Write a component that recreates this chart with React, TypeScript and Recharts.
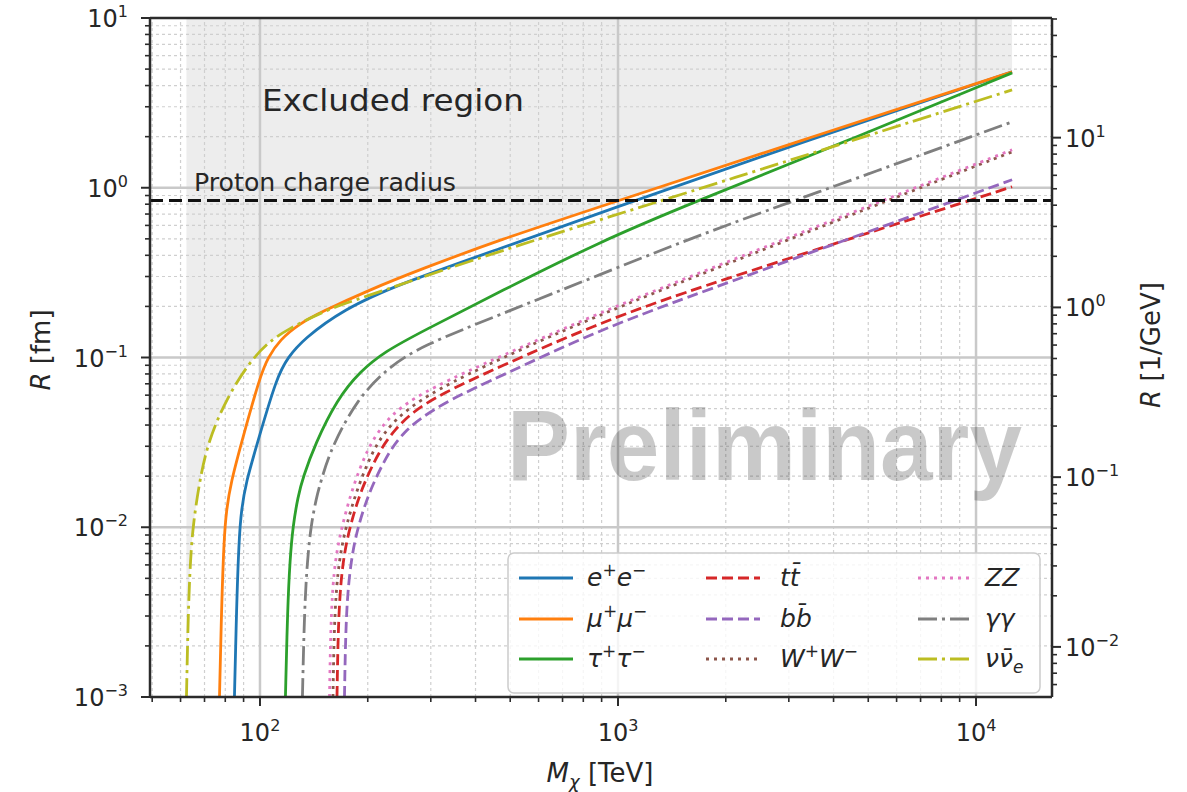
import React from 'react';
import { ComposedChart, Line, Area, XAxis, YAxis, ReferenceLine } from 'recharts';

type P = { m: number; r: number };

// ---- axis ticks ----
const X_MAJOR = [100, 1000, 10000];
const X_MINOR = [50, 60, 70, 80, 90, 200, 300, 400, 500, 600, 700, 800, 900, 2000, 3000, 4000, 5000, 6000, 7000, 8000, 9000];
const Y_MAJOR = [0.001, 0.01, 0.1, 1, 10];
const Y_MINOR = [
  0.002, 0.003, 0.004, 0.005, 0.006, 0.007, 0.008, 0.009,
  0.02, 0.03, 0.04, 0.05, 0.06, 0.07, 0.08, 0.09,
  0.2, 0.3, 0.4, 0.5, 0.6, 0.7, 0.8, 0.9,
  2, 3, 4, 5, 6, 7, 8, 9,
];
const Y2_MAJOR = [0.01, 0.1, 1, 10];
const Y2_MINOR = [
  0.006, 0.007, 0.008, 0.009,
  0.02, 0.03, 0.04, 0.05, 0.06, 0.07, 0.08, 0.09,
  0.2, 0.3, 0.4, 0.5, 0.6, 0.7, 0.8, 0.9,
  2, 3, 4, 5, 6, 7, 8, 9, 20, 30, 40, 50,
];

const FM_PER_INV_GEV = 0.1973;
const X_DOMAIN: [number, number] = [49.3, 16300];
const Y_DOMAIN: [number, number] = [0.001, 10];
const Y2_DOMAIN: [number, number] = [0.001 / FM_PER_INV_GEV, 10 / FM_PER_INV_GEV];
const PROTON_RADIUS = 0.84;
const EXCLUDED_TOP = 10;

// ---- series (M in TeV, R in fm) ----
const eeData: P[] = [
  { m: 84.86, r: 0.001 }, { m: 85.99, r: 0.003293 }, { m: 87.36, r: 0.0085 }, { m: 88.77, r: 0.01276 },
  { m: 91.4, r: 0.01839 }, { m: 98.08, r: 0.03077 }, { m: 111.5, r: 0.07733 }, { m: 119.7, r: 0.1 },
  { m: 131.9, r: 0.1276 }, { m: 170.5, r: 0.1915 }, { m: 246.1, r: 0.2724 }, { m: 468.2, r: 0.4377 },
  { m: 890.6, r: 0.7126 }, { m: 3224, r: 1.84 }, { m: 12610, r: 4.814 },
];
const mumuData: P[] = [
  { m: 77.08, r: 0.001 }, { m: 78.08, r: 0.003293 }, { m: 79.33, r: 0.0085 }, { m: 80.62, r: 0.01276 },
  { m: 82.99, r: 0.01839 }, { m: 88.5, r: 0.03077 }, { m: 100, r: 0.07733 }, { m: 105.3, r: 0.1 },
  { m: 113.7, r: 0.1276 }, { m: 129.3, r: 0.1585 }, { m: 147.1, r: 0.1839 }, { m: 202.9, r: 0.2512 },
  { m: 280, r: 0.3296 }, { m: 468.2, r: 0.4943 }, { m: 890.6, r: 0.7734 }, { m: 3224, r: 1.89 },
  { m: 12610, r: 4.814 },
];
const tautauData: P[] = [
  { m: 117.8, r: 0.001 }, { m: 119.4, r: 0.003293 }, { m: 121.3, r: 0.006483 }, { m: 123.6, r: 0.010137 },
  { m: 127.7, r: 0.01522 }, { m: 131.9, r: 0.01968 }, { m: 142.4, r: 0.03077 }, { m: 164.1, r: 0.05661 },
  { m: 190.2, r: 0.0827 }, { m: 223.4, r: 0.1085 }, { m: 280, r: 0.1403 }, { m: 468.2, r: 0.2445 },
  { m: 890.6, r: 0.4813 }, { m: 1589, r: 0.8052 }, { m: 4446, r: 1.916 }, { m: 12610, r: 4.748 },
];
const ttData: P[] = [
  { m: 164.1, r: 0.001 }, { m: 165.7, r: 0.003293 }, { m: 170.5, r: 0.006483 }, { m: 178.4, r: 0.010137 },
  { m: 191.5, r: 0.016733 }, { m: 216.3, r: 0.028764 }, { m: 238.4, r: 0.03772 }, { m: 265.8, r: 0.04748 },
  { m: 318.3, r: 0.06059 }, { m: 468.2, r: 0.08855 }, { m: 890.6, r: 0.1606 }, { m: 1694, r: 0.2617 },
  { m: 9199, r: 0.8163 }, { m: 12610, r: 1.0136 },
];
const bbData: P[] = [
  { m: 172.2, r: 0.001 }, { m: 173.9, r: 0.003293 }, { m: 179.6, r: 0.006483 }, { m: 187.8, r: 0.010137 },
  { m: 202.9, r: 0.016733 }, { m: 230.7, r: 0.028764 }, { m: 254.1, r: 0.0367 }, { m: 280, r: 0.04378 },
  { m: 339.5, r: 0.05661 }, { m: 468.2, r: 0.07733 }, { m: 890.6, r: 0.1462 }, { m: 1694, r: 0.2411 },
  { m: 12610, r: 1.1144 },
];
const wwData: P[] = [
  { m: 159.9, r: 0.001 }, { m: 161.5, r: 0.003293 }, { m: 166.3, r: 0.006483 }, { m: 173.9, r: 0.010137 },
  { m: 186.6, r: 0.016733 }, { m: 206.9, r: 0.028764 }, { m: 229.3, r: 0.03927 }, { m: 255.7, r: 0.04878 },
  { m: 308.3, r: 0.06394 }, { m: 468.2, r: 0.09865 }, { m: 890.6, r: 0.179 }, { m: 1694, r: 0.3078 },
  { m: 5290, r: 0.7943 }, { m: 12610, r: 1.628 },
];
const zzData: P[] = [
  { m: 156.4, r: 0.001 }, { m: 157.9, r: 0.003293 }, { m: 162.0, r: 0.006483 }, { m: 169.5, r: 0.010137 },
  { m: 180.7, r: 0.016733 }, { m: 199.0, r: 0.028764 }, { m: 220.6, r: 0.04035 }, { m: 246.1, r: 0.0508 },
  { m: 298.5, r: 0.0657 }, { m: 468.2, r: 0.10137 }, { m: 890.6, r: 0.1839 }, { m: 1694, r: 0.3162 },
  { m: 5290, r: 0.8163 }, { m: 12610, r: 1.673 },
];
const gammaData: P[] = [
  { m: 131.4, r: 0.001 }, { m: 133.1, r: 0.003293 }, { m: 135.7, r: 0.006483 }, { m: 138.8, r: 0.010137 },
  { m: 143.3, r: 0.01461 }, { m: 149.0, r: 0.01968 }, { m: 158.9, r: 0.02995 }, { m: 186.6, r: 0.05661 },
  { m: 226.3, r: 0.0861 }, { m: 280, r: 0.1161 }, { m: 468.2, r: 0.179 }, { m: 890.6, r: 0.3078 },
  { m: 1694, r: 0.5292 }, { m: 3224, r: 0.8616 }, { m: 12610, r: 2.444 },
];
const nunuData: P[] = [
  { m: 62.33, r: 0.001 }, { m: 63.06, r: 0.003293 }, { m: 63.96, r: 0.006483 }, { m: 64.99, r: 0.010137 },
  { m: 67.54, r: 0.0179 }, { m: 71.56, r: 0.03205 }, { m: 80.88, r: 0.05816 }, { m: 93.78, r: 0.09473 },
  { m: 105.3, r: 0.1225 }, { m: 119.0, r: 0.1462 }, { m: 153.9, r: 0.1915 }, { m: 186.6, r: 0.2194 },
  { m: 378.6, r: 0.367 }, { m: 890.6, r: 0.6483 }, { m: 1694, r: 0.9865 }, { m: 12610, r: 3.771 },
];

// excluded region: above the envelope of nu-nu (low mass) and mu-mu (high mass)
const envelope: P[] = [
  ...nunuData.filter((p) => p.m <= 154),
  ...mumuData.filter((p) => p.m >= 200),
];
const bandData = envelope.map((p) => ({ m: p.m, band: [p.r, EXCLUDED_TOP] }));

const FONT = '"DejaVu Sans", sans-serif';
const AX = '#2b2b2b';
const TXT = '#262626';

const DASHED = '11 5';
const DOTTED = '3 5';
const DASHDOT = '19 5 3 5';

type S = { key: string; data: P[]; color: string; dash?: string; label: React.ReactNode };

const sup = (t: string) => (
  <tspan dy={-10} fontSize={17} fontStyle="normal">{t}</tspan>
);
const base = (t: string) => <tspan dy={10}>{t}</tspan>;

const SERIES: S[] = [
  { key: 'ee', data: eeData, color: '#1f77b4', label: <>e{sup('+')}{base('e')}{sup('−')}</> },
  { key: 'mumu', data: mumuData, color: '#ff7f0e', label: <>μ{sup('+')}{base('μ')}{sup('−')}</> },
  { key: 'tautau', data: tautauData, color: '#2ca02c', label: <>τ{sup('+')}{base('τ')}{sup('−')}</> },
  { key: 'tt', data: ttData, color: '#d62728', dash: DASHED, label: <>t{'t\u0304'}</> },
  { key: 'bb', data: bbData, color: '#9467bd', dash: DASHED, label: <>b{'b\u0304'}</> },
  { key: 'ww', data: wwData, color: '#8c564b', dash: DOTTED, label: <>W{sup('+')}{base('W')}{sup('−')}</> },
  { key: 'zz', data: zzData, color: '#e377c2', dash: DOTTED, label: <>ZZ</> },
  { key: 'gg', data: gammaData, color: '#7f7f7f', dash: DASHDOT, label: <>γγ</> },
  { key: 'nn', data: nunuData, color: '#bcbd22', dash: DASHDOT, label: <>ν{'ν\u0304'}<tspan dy={6} fontSize={17}>e</tspan></> },
];

const TS = 8;
const TM = 4;
const MAJ_LEN = 9;
const MIN_LEN = 5;
const near = (v: number, arr: number[]) => arr.some((a) => Math.abs(a - v) / a < 1e-6);
const expOf = (v: number) => {
  const e = Math.round(Math.log10(v));
  return e < 0 ? '−' + Math.abs(e) : String(e);
};

const XTick = (props: any) => {
  const { x, y, payload } = props;
  const v = payload.value;
  const major = near(v, X_MAJOR);
  const ay = y - TS - TM;
  return (
    <g>
      <line x1={x} x2={x} y1={ay} y2={ay + (major ? MAJ_LEN : MIN_LEN)} stroke={AX} strokeWidth={major ? 2 : 1.6} />
      {major && (
        <text x={x} y={ay + 44} textAnchor="middle" fontSize={24} fill={TXT} fontFamily={FONT}>
          10<tspan dy={-10} fontSize={16}>{expOf(v)}</tspan>
        </text>
      )}
    </g>
  );
};

const LeftTick = (props: any) => {
  const { x, y, payload } = props;
  const v = payload.value;
  const major = near(v, Y_MAJOR);
  const ax = x + TS + TM;
  return (
    <g>
      <line x1={ax - (major ? MAJ_LEN : MIN_LEN)} x2={ax} y1={y} y2={y} stroke={AX} strokeWidth={major ? 2 : 1.6} />
      {major && (
        <text x={ax - 22} y={y + 9} textAnchor="end" fontSize={24} fill={TXT} fontFamily={FONT}>
          10<tspan dy={-10} fontSize={16}>{expOf(v)}</tspan>
        </text>
      )}
    </g>
  );
};

const RightTick = (props: any) => {
  const { x, y, payload } = props;
  const v = payload.value;
  const major = near(v, Y2_MAJOR);
  const ax = x - TS - TM;
  return (
    <g>
      <line x1={ax} x2={ax + (major ? MAJ_LEN : MIN_LEN)} y1={y} y2={y} stroke={AX} strokeWidth={major ? 2 : 1.6} />
      {major && (
        <text x={ax + 13} y={y + 9} textAnchor="start" fontSize={24} fill={TXT} fontFamily={FONT}>
          10<tspan dy={-10} fontSize={16}>{expOf(v)}</tspan>
        </text>
      )}
    </g>
  );
};

const X_TICKS = [...X_MAJOR, ...X_MINOR].sort((a, b) => a - b);
const Y_TICKS = [...Y_MAJOR, ...Y_MINOR].sort((a, b) => a - b);
const Y2_TICKS = [...Y2_MAJOR, ...Y2_MINOR].sort((a, b) => a - b);

const LEG_COLS = [519, 706, 918];
const LEG_TEXT = [587, 780, 985];
const LEG_ROWS = [578, 619, 659];

export default function App() {
  return (
    <div style={{ position: 'absolute', left: 0, top: 0, width: 1187, height: 792, background: '#fff' }}>
      <ComposedChart width={1187} height={792} margin={{ top: 18, right: 0, bottom: 0, left: 0 }}>
        <XAxis
          dataKey="m"
          type="number"
          scale="log"
          domain={X_DOMAIN}
          allowDataOverflow
          ticks={X_TICKS}
          interval={0}
          tickLine={false}
          tickSize={TS}
          tickMargin={TM}
          tick={<XTick />}
          height={95}
          axisLine={{ stroke: AX, strokeWidth: 2.5 }}
        />
        <YAxis
          yAxisId="left"
          type="number"
          scale="log"
          domain={Y_DOMAIN}
          allowDataOverflow
          ticks={Y_TICKS}
          interval={0}
          tickLine={false}
          tickSize={TS}
          tickMargin={TM}
          tick={<LeftTick />}
          width={150}
          axisLine={{ stroke: AX, strokeWidth: 2.5 }}
        />
        <YAxis
          yAxisId="right"
          orientation="right"
          type="number"
          scale="log"
          domain={Y2_DOMAIN}
          allowDataOverflow
          ticks={Y2_TICKS}
          interval={0}
          tickLine={false}
          tickSize={TS}
          tickMargin={TM}
          tick={<RightTick />}
          width={135}
          axisLine={{ stroke: AX, strokeWidth: 2.5 }}
        />
        <Area
          yAxisId="left"
          data={bandData}
          dataKey="band"
          type="basis"
          stroke="none"
          fill="#ededed"
          fillOpacity={1}
          isAnimationActive={false}
          dot={false}
          activeDot={false}
        />
        {X_MINOR.map((v) => (
          <ReferenceLine key={'xm' + v} yAxisId="left" x={v} stroke="#cfcfcf" strokeWidth={1.2} strokeDasharray="3 3" />
        ))}
        {Y_MINOR.map((v) => (
          <ReferenceLine key={'ym' + v} yAxisId="left" y={v} stroke="#cfcfcf" strokeWidth={1.2} strokeDasharray="3 3" />
        ))}
        {X_MAJOR.map((v) => (
          <ReferenceLine key={'xM' + v} yAxisId="left" x={v} stroke="#c9c9c9" strokeWidth={2.5} />
        ))}
        {Y_MAJOR.filter((v) => v > 0.001 && v < 10).map((v) => (
          <ReferenceLine key={'yM' + v} yAxisId="left" y={v} stroke="#c9c9c9" strokeWidth={2.5} />
        ))}
        {SERIES.map((s) => (
          <Line
            key={s.key}
            yAxisId="left"
            data={s.data}
            dataKey="r"
            type="basis"
            stroke={s.color}
            strokeWidth={2.8}
            strokeDasharray={s.dash}
            dot={false}
            activeDot={false}
            isAnimationActive={false}
          />
        ))}
        <ReferenceLine yAxisId="left" y={PROTON_RADIUS} stroke="#111" strokeWidth={3} strokeDasharray="13 6" />
        <ReferenceLine yAxisId="left" y={10} stroke={AX} strokeWidth={2.5} />
      </ComposedChart>
      <svg
        width={1187}
        height={792}
        style={{ position: 'absolute', left: 0, top: 0, pointerEvents: 'none' }}
      >
        <text x={507} y={480} fontFamily='"Liberation Sans", Arial, sans-serif' fontWeight="bold" fontSize={100}
          textLength={515} lengthAdjust="spacingAndGlyphs" fill="#000" fillOpacity={0.21}>Preliminary</text>
        <text x={262} y={111} fontFamily={FONT} fontSize={30} fill={TXT} textLength={262} lengthAdjust="spacingAndGlyphs">Excluded region</text>
        <text x={194} y={191} fontFamily={FONT} fontSize={24} fill={TXT} textLength={262} lengthAdjust="spacingAndGlyphs">Proton charge radius</text>
        <text transform="translate(50,350) rotate(-90)" textAnchor="middle" fontFamily={FONT} fontSize={26} fill={TXT}>
          <tspan fontStyle="italic">R</tspan> [fm]
        </text>
        <text transform="translate(1160,345) rotate(-90)" textAnchor="middle" fontFamily={FONT} fontSize={26} fill={TXT}>
          <tspan fontStyle="italic">R</tspan> [1/GeV]
        </text>
        <text x={600} y={782} textAnchor="middle" fontFamily={FONT} fontSize={26} fill={TXT}>
          <tspan fontStyle="italic">M</tspan>
          <tspan fontStyle="italic" fontSize={18} dy={6}>χ</tspan>
          <tspan dy={-6}> [TeV]</tspan>
        </text>
        <g>
          <rect x={508} y={553} width={532} height={140} rx={6} ry={6} fill="#fff" fillOpacity={0.8} stroke="#cccccc" strokeWidth={1.5} />
          {SERIES.map((s, i) => {
            const col = Math.floor(i / 3);
            const row = i % 3;
            const y = LEG_ROWS[row];
            return (
              <g key={'leg' + s.key}>
                <line x1={LEG_COLS[col]} x2={LEG_COLS[col] + 54} y1={y} y2={y} stroke={s.color} strokeWidth={2.8} strokeDasharray={s.dash} />
                <text x={LEG_TEXT[col]} y={y + 8} fontFamily={FONT} fontSize={25} fontStyle="italic" fill={TXT}>
                  {s.label}
                </text>
              </g>
            );
          })}
        </g>
      </svg>
    </div>
  );
}
